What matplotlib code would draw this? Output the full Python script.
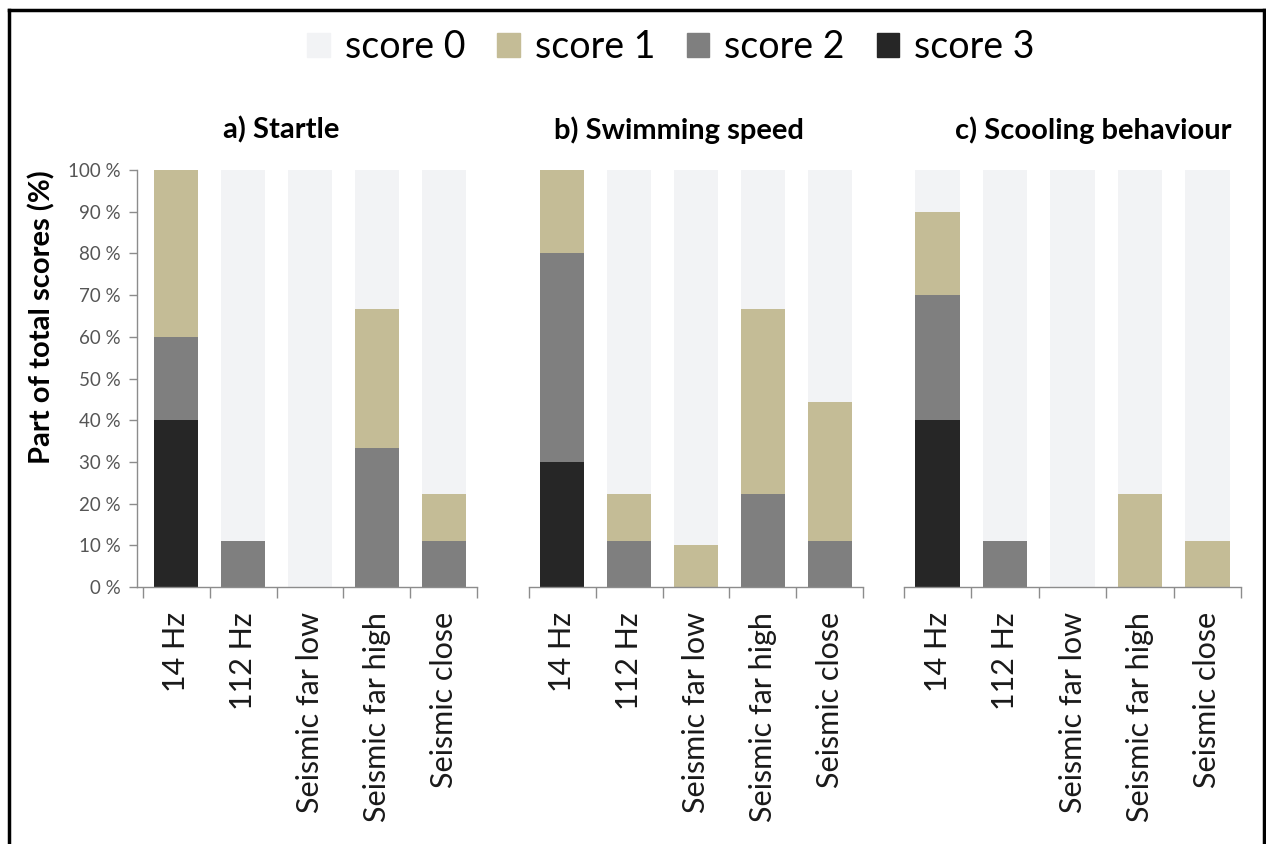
import matplotlib.pyplot as plt
from matplotlib.lines import Line2D
import numpy as np

plt.rcParams['font.family'] = ['Lato', 'DejaVu Sans']

conditions = ['14 Hz', '112 Hz', 'Seismic far low', 'Seismic far high', 'Seismic close']
score_names = ['score 0', 'score 1', 'score 2', 'score 3']
score_colors = ['#F2F3F5', '#C4BC96', '#7F7F7F', '#262626']

# percent of total scores per condition, stacked bottom->top: score 3, score 2, score 1, score 0
startle_s3 = [40, 0, 0, 0, 0]
startle_s2 = [20, 11.1, 0, 33.3, 11.1]
startle_s1 = [40, 0, 0, 33.3, 11.1]
startle_s0 = [0, 88.9, 100, 33.4, 77.8]

swim_s3 = [30, 0, 0, 0, 0]
swim_s2 = [50, 11.1, 0, 22.2, 11.1]
swim_s1 = [20, 11.1, 10, 44.5, 33.3]
swim_s0 = [0, 77.8, 90, 33.3, 55.6]

school_s3 = [40, 0, 0, 0, 0]
school_s2 = [30, 11.1, 0, 0, 0]
school_s1 = [20, 0, 0, 22.2, 11.1]
school_s0 = [10, 88.9, 100, 77.8, 88.9]

panels = [
    ('a) Startle', [startle_s0, startle_s1, startle_s2, startle_s3]),
    ('b) Swimming speed', [swim_s0, swim_s1, swim_s2, swim_s3]),
    ('c) Scooling behaviour', [school_s0, school_s1, school_s2, school_s3]),
]

fig = plt.figure(figsize=(12.66, 8.44), dpi=100)
W, H = 1266, 844

# axes boxes in pixels: (left, right)
boxes = [(137, 477), (529, 863), (904, 1241)]
y0, y1 = 587, 170
title_x = [281, 679, 1093]
axis_grey = '#8C8C8C'

x = np.arange(len(conditions))
for i, ((title, series), (l, r)) in enumerate(zip(panels, boxes)):
    ax = fig.add_axes([l / W, 1 - y0 / H, (r - l) / W, (y0 - y1) / H])
    bottom = np.zeros(len(conditions))
    for k in [3, 2, 1, 0]:
        vals = np.array(series[k])
        ax.bar(x, vals, width=0.66, bottom=bottom, color=score_colors[k], zorder=2)
        bottom += vals
    ax.set_ylim(0, 100)
    if i == 0:
        ax.set_xlim(-0.59, 4.5)
    else:
        ax.set_xlim(-0.5, 4.5)
    ax.set_xticks(np.arange(-0.5, 5, 1.0))
    ax.set_xticks(x, minor=True)
    ax.set_xticklabels([])
    ax.set_xticklabels(conditions, minor=True, rotation=90, fontsize=22, color='#1a1a1a')
    ax.tick_params(axis='x', which='major', length=8, width=1, color=axis_grey, direction='out')
    ax.tick_params(axis='x', which='minor', length=0, pad=18)
    for s in ['top', 'right']:
        ax.spines[s].set_visible(False)
    ax.spines['bottom'].set_color(axis_grey)
    ax.spines['bottom'].set_linewidth(1)
    if i == 0:
        ax.spines['left'].set_color(axis_grey)
        ax.spines['left'].set_linewidth(1)
        ax.set_yticks(np.arange(0, 101, 10))
        ax.set_yticklabels(['%d %%' % v for v in range(0, 101, 10)], fontsize=13.5, color='#555555')
        ax.tick_params(axis='y', length=6, width=1, color=axis_grey, pad=6)
    else:
        ax.spines['left'].set_visible(False)
        ax.set_yticks([])
    fig.text(title_x[i] / W, 1 - 130 / H, title, ha='center', va='center',
             fontsize=21, fontweight='bold')

fig.text(42 / W, 1 - 317 / H, 'Part of total scores (%)', rotation=90, ha='center', va='center',
         fontsize=21, fontweight='bold')

handles = [plt.Rectangle((0, 0), 1, 1, color=c) for c in score_colors]
fig.legend(handles, score_names, loc='center', bbox_to_anchor=(671 / W, 1 - 47 / H), ncol=4,
           frameon=False, fontsize=27, handlelength=0.6, handleheight=0.6, handletextpad=0.4,
           columnspacing=0.85)

# black frame around the figure (left, top, right)
fig.add_artist(Line2D([8.5 / W, 8.5 / W], [0, 1 - 9.5 / H], transform=fig.transFigure, color='black', lw=2.5))
fig.add_artist(Line2D([8.5 / W, 1263.5 / W], [1 - 9.5 / H, 1 - 9.5 / H], transform=fig.transFigure, color='black', lw=2.5))
fig.add_artist(Line2D([1263.5 / W, 1263.5 / W], [0, 1 - 9.5 / H], transform=fig.transFigure, color='black', lw=2.5))

fig.savefig('out.png', dpi=100)
